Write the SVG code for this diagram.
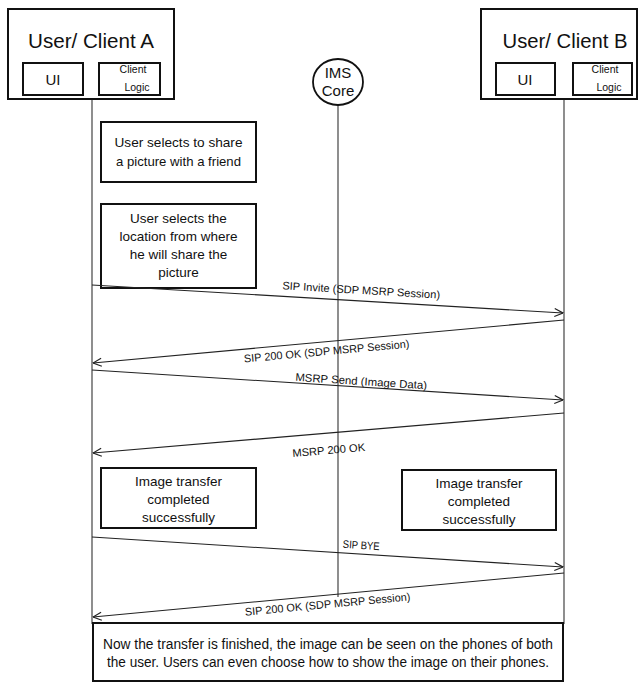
<svg xmlns="http://www.w3.org/2000/svg" width="642" height="683" viewBox="0 0 642 683">
<style>
  text { font-family: "Liberation Sans", Arial, sans-serif; fill: #111; }
  .box { fill: #fff; stroke: #111; stroke-width: 2; }
  .sub { fill: #fff; stroke: #111; stroke-width: 2; }
  .life { stroke: #444; stroke-width: 1.2; fill: none; }
  .msg { stroke: #222; stroke-width: 1.1; fill: none; marker-end: url(#arr); }
  .lbl { font-size: 11px; text-anchor: middle; }
  .note { font-size: 13.5px; text-anchor: middle; }
</style>
<defs>
  <marker id="arr" viewBox="0 0 10 10" refX="9.5" refY="5" markerWidth="10" markerHeight="10" markerUnits="userSpaceOnUse" orient="auto">
    <path d="M1,1 L9.5,5 L1,9" fill="none" stroke="#222" stroke-width="1.2"/>
  </marker>
</defs>
<rect width="642" height="683" fill="#fff"/>

<g id="lifelines">
  <line class="life" x1="92" y1="99" x2="92" y2="624"/>
  <line class="life" x1="338" y1="104" x2="338" y2="597"/>
  <line class="life" x1="564" y1="99" x2="564" y2="624"/>
</g>

<g id="clientA">
  <rect class="box" x="8" y="9" width="166" height="90"/>
  <text x="91" y="48" font-size="20" text-anchor="middle" textLength="126" lengthAdjust="spacingAndGlyphs">User/ Client A</text>
  <rect class="sub" x="23" y="63" width="60" height="32"/>
  <text x="53" y="85" font-size="15" text-anchor="middle">UI</text>
  <rect class="sub" x="99" y="63" width="61" height="32"/>
  <text x="133" y="73" font-size="10.5" text-anchor="middle">Client</text>
  <text x="137" y="91" font-size="10.5" text-anchor="middle">Logic</text>
</g>

<g id="clientB">
  <rect class="box" x="481" y="9" width="156" height="90"/>
  <text x="565" y="48" font-size="20" text-anchor="middle" textLength="125" lengthAdjust="spacingAndGlyphs">User/ Client B</text>
  <rect class="sub" x="496" y="63" width="59" height="32"/>
  <text x="525" y="85" font-size="15" text-anchor="middle">UI</text>
  <rect class="sub" x="573" y="63" width="59" height="32"/>
  <text x="605" y="73" font-size="10.5" text-anchor="middle">Client</text>
  <text x="609" y="91" font-size="10.5" text-anchor="middle">Logic</text>
</g>

<g id="imsCore">
  <ellipse cx="338" cy="82" rx="25" ry="23" fill="#fff" stroke="#111" stroke-width="1.8"/>
  <text x="338" y="78" font-size="15" text-anchor="middle">IMS</text>
  <text x="338" y="96" font-size="15" text-anchor="middle">Core</text>
</g>

<g id="note1">
  <rect class="box" x="101" y="122" width="155" height="60"/>
  <text class="note" x="178.5" y="147" textLength="128" lengthAdjust="spacingAndGlyphs">User selects to share</text>
  <text class="note" x="178.5" y="166" textLength="125" lengthAdjust="spacingAndGlyphs">a picture with a friend</text>
</g>

<g id="note2">
  <rect class="box" x="101" y="204" width="155" height="84"/>
  <text class="note" x="178.5" y="223">User selects the</text>
  <text class="note" x="178.5" y="241">location from where</text>
  <text class="note" x="178.5" y="259">he will share the</text>
  <text class="note" x="178.5" y="277">picture</text>
</g>

<g id="note3">
  <rect class="box" x="101" y="468" width="155" height="60"/>
  <text class="note" x="178.5" y="486">Image transfer</text>
  <text class="note" x="178.5" y="504">completed</text>
  <text class="note" x="178.5" y="522">successfully</text>
</g>

<g id="note4">
  <rect class="box" x="402" y="470" width="154" height="60"/>
  <text class="note" x="479" y="488">Image transfer</text>
  <text class="note" x="479" y="506">completed</text>
  <text class="note" x="479" y="524">successfully</text>
</g>

<g id="noteFinal">
  <rect class="box" x="93" y="623" width="470" height="58"/>
  <text x="328" y="649" font-size="14" text-anchor="middle" textLength="450" lengthAdjust="spacingAndGlyphs">Now the transfer is finished, the image can be seen on the phones of both</text>
  <text x="328" y="667" font-size="14" text-anchor="middle" textLength="442" lengthAdjust="spacingAndGlyphs">the user. Users can even choose how to show the image on their phones.</text>
</g>

<g id="connectors">
  <line class="msg" x1="92" y1="285" x2="563" y2="313"/>
  <text class="lbl" transform="translate(361,294) rotate(3.4)" textLength="158" lengthAdjust="spacingAndGlyphs">SIP Invite (SDP MSRP Session)</text>

  <line class="msg" x1="564" y1="320" x2="93" y2="363"/>
  <text class="lbl" transform="translate(327,355) rotate(-5.2)" textLength="166" lengthAdjust="spacingAndGlyphs">SIP 200 OK (SDP MSRP Session)</text>

  <line class="msg" x1="92" y1="370" x2="563" y2="400"/>
  <text class="lbl" transform="translate(361,385) rotate(3.6)" textLength="132" lengthAdjust="spacingAndGlyphs">MSRP Send (Image Data)</text>

  <line class="msg" x1="564" y1="413" x2="93" y2="453"/>
  <text class="lbl" transform="translate(329,454) rotate(-4.9)" textLength="73" lengthAdjust="spacingAndGlyphs">MSRP 200 OK</text>

  <line class="msg" x1="92" y1="537" x2="563" y2="567"/>
  <text class="lbl" transform="translate(361,549) rotate(3.6)" textLength="37" lengthAdjust="spacingAndGlyphs">SIP BYE</text>

  <line class="msg" x1="564" y1="573" x2="93" y2="617"/>
  <text class="lbl" transform="translate(328,608) rotate(-5.3)" textLength="166" lengthAdjust="spacingAndGlyphs">SIP 200 OK (SDP MSRP Session)</text>
</g>
</svg>
